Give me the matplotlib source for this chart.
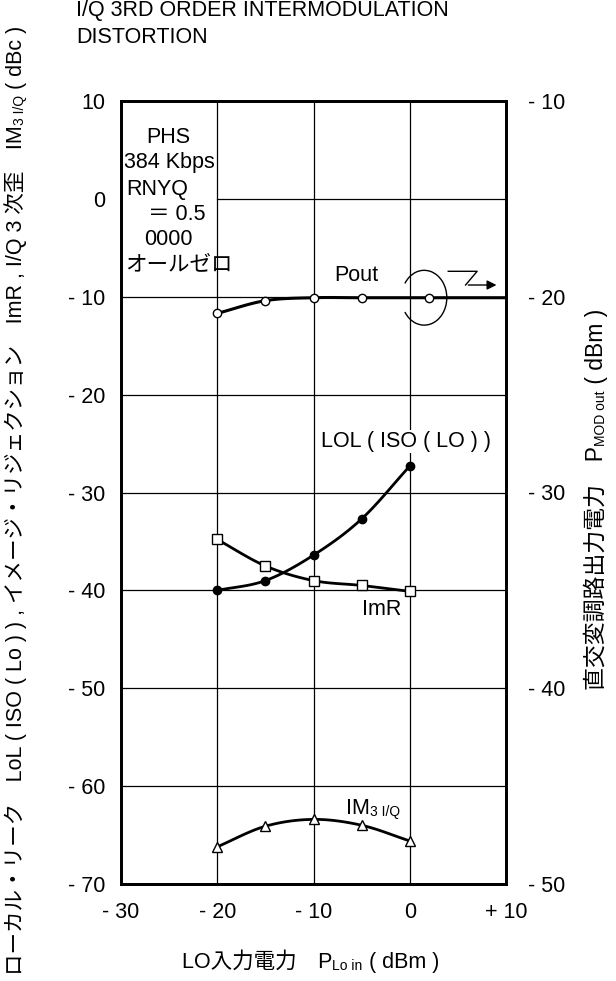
import numpy as np
import matplotlib
matplotlib.use('Agg')
import matplotlib.pyplot as plt
from matplotlib.patches import Arc

plt.rcParams['font.family'] = ['Liberation Sans', 'Noto Sans CJK JP', 'DejaVu Sans']
plt.rcParams['font.size'] = 15.5

# LO input power (dBm) at the measured points
lo_in = [-20, -15, -10, -5, 0]
pout_x = [-20, -15, -10, -5, 2]

# left axis (dBc)
lol = [-40.0, -39.0, -36.4, -32.7, -27.3]
imr = [-34.8, -37.5, -39.0, -39.5, -40.1]
im3 = [-66.2, -64.1, -63.4, -64.0, -65.6]
# right axis (dBm)
pout = [-20.85, -20.2, -20.05, -20.05, -20.05]

x_ticks = [-30, -20, -10, 0, 10]
x_labels = ['- 30', '- 20', '- 10', '0', '+ 10']
yl_ticks = [10, 0, -10, -20, -30, -40, -50, -60, -70]
yl_labels = ['10', '0', '- 10', '- 20', '- 30', '- 40', '- 50', '- 60', '- 70']
yr_ticks = [-10, -20, -30, -40, -50]
yr_labels = ['- 10', '- 20', '- 30', '- 40', '- 50']

FS = 15.5
SUB = 10


def smooth(xs, ys, n=30):
    # Catmull-Rom curve through the points
    p = np.column_stack([xs, ys]).astype(float)
    p = np.vstack([2 * p[0] - p[1], p, 2 * p[-1] - p[-2]])
    out = []
    t = np.linspace(0, 1, n)[:, None]
    for i in range(1, len(p) - 2):
        p0, p1, p2, p3 = p[i - 1], p[i], p[i + 1], p[i + 2]
        seg = 0.5 * ((2 * p1) + (-p0 + p2) * t + (2 * p0 - 5 * p1 + 4 * p2 - p3) * t ** 2
                     + (-p0 + 3 * p1 - 3 * p2 + p3) * t ** 3)
        out.append(seg)
    c = np.vstack(out)
    return c[:, 0], c[:, 1]


fig = plt.figure(figsize=(6.16, 9.81), dpi=100)
ax = fig.add_axes([121 / 616, 1 - 884 / 981, 385 / 616, 783 / 981])
ax.set_xlim(-30, 10)
ax.set_ylim(-70, 10)

# grid: the corner at upper left holds the condition box
for gx in [-20, -10, 0]:
    ax.axvline(gx, color='black', lw=0.9, zorder=1)
ax.plot([-20, 10], [0, 0], color='black', lw=0.9, zorder=1)
for gy in [-10, -20, -30, -40, -50, -60]:
    ax.axhline(gy, color='black', lw=0.9, zorder=1)

ax.set_xticks(x_ticks)
ax.set_xticklabels(x_labels)
ax.set_yticks(yl_ticks)
ax.set_yticklabels(yl_labels)
ax.tick_params(length=0, labelsize=FS)
ax.tick_params(axis='x', pad=13)
ax.tick_params(axis='y', pad=11)
for s in ax.spines.values():
    s.set_linewidth(2)

ax2 = ax.twinx()
ax2.set_ylim(-50, -10)
ax2.set_yticks(yr_ticks)
ax2.set_yticklabels(yr_labels)
ax2.tick_params(length=0, labelsize=FS, pad=16)
for s in ax2.spines.values():
    s.set_linewidth(2)

mk = dict(color='black', mec='black', mew=1, ls='none', zorder=5)

sx, sy = smooth(lo_in, lol)
ax.plot(sx, sy, color='black', lw=2, zorder=4)
ax.plot(lo_in, lol, marker='o', ms=6, mfc='black', **mk)

sx, sy = smooth(lo_in, imr)
ax.plot(sx, sy, color='black', lw=2, zorder=4)
ax.plot(lo_in, imr, marker='s', ms=7, mfc='white', **mk)

sx, sy = smooth(lo_in, im3)
ax.plot(sx, sy, color='black', lw=2, zorder=4)
ax.plot(lo_in, im3, marker='^', ms=7, mfc='white', **mk)

sx, sy = smooth(pout_x, pout)
sx = np.append(sx, ax.get_xlim()[1])
sy = np.append(sy, pout[-1])
ax2.plot(sx, sy, color='black', lw=2.2, zorder=4)
ax2.plot(pout_x, pout, marker='o', ms=6, mfc='white', **mk)

# ellipse and arrow pointing Pout to the right-hand scale
ax2.add_patch(Arc((pout_x[-1] - 0.5, pout[-1]), 4.7, 2.8, theta1=-160, theta2=160,
                  color='black', lw=1, zorder=3))
ax2.plot([4.0, 7.0, 5.8], [-18.7, -18.7, -19.4], color='black', lw=1)
ax2.annotate('', xy=(9.3, -19.4), xytext=(5.8, -19.4),
             arrowprops=dict(arrowstyle='-|>', color='black', lw=1, mutation_scale=14))

# curve labels
ax.text(-5.5, -7.8, 'Pout', ha='center', va='center', fontsize=FS)
ax.text(-9.2, -24.8, 'LOL ( ISO ( LO ) )', ha='left', va='center', fontsize=FS,
        bbox=dict(facecolor='white', edgecolor='none', pad=1), zorder=3)
ax.text(-2.9, -42.0, 'ImR', ha='center', va='center', fontsize=FS)

# condition box
ax.text(-25.1, 6.3, 'PHS', ha='center', va='center', fontsize=FS)
ax.text(-29.7, 3.7, '384 Kbps', ha='left', va='center', fontsize=FS)
ax.text(-29.5, 1.0, 'RNYQ', ha='left', va='center', fontsize=FS)
ax.text(-27.2, -1.6, '＝ 0.5', ha='left', va='center', fontsize=FS)
ax.text(-25.1, -4.2, '0000', ha='center', va='center', fontsize=FS)
ax.text(-29.6, -6.75, 'オールゼロ', ha='left', va='center', fontsize=FS)

fig.text(76 / 616, 1 - 16 / 981, 'I/Q 3RD ORDER INTERMODULATION', ha='left', va='baseline', fontsize=15.5)
fig.text(76 / 616, 1 - 43 / 981, 'DISTORTION', ha='left', va='baseline', fontsize=15.5)

renderer = fig.canvas.get_renderer()
W, H = fig.bbox.width, fig.bbox.height


def vstack_text(x, y, parts):
    # rotated pieces placed one after another, reading bottom to top
    for s, size, shift in parts:
        t = fig.text(x + shift / W, y, s, rotation=90, rotation_mode='anchor',
                     ha='left', va='baseline', fontsize=size)
        y += t.get_window_extent(renderer).height / H


def hstack_text(x, y, parts):
    for s, size, shift in parts:
        t = fig.text(x, y - shift / H, s, ha='left', va='baseline', fontsize=size)
        x += t.get_window_extent(renderer).width / W


# IM3 I/Q label next to its curve
lx, ly = fig.transFigure.inverted().transform(ax.transData.transform((-6.6, -62.8)))
hstack_text(lx, ly, [('IM', FS, 0), ('3 I/Q', SUB, 2)])

vstack_text(22 / 616, 1 - 975 / 981, [
    ('ローカル・リーク　LoL ( ISO ( Lo ) ) , イメージ・リジェクション　ImR , I/Q 3 次歪　IM', 15.5, 0),
    ('3 I/Q', SUB, 2),
    (' ( dBc )', 15.5, 0),
])
vstack_text(603 / 616, 1 - 690 / 981, [
    ('直交変調路出力電力　P', 16.5, 0),
    ('MOD out', SUB, 2),
    (' ( dBm )', 16.5, 0),
])
hstack_text(182 / 616, 1 - 968 / 981, [
    ('LO入力電力　P', FS, 0),
    ('Lo in', SUB, 2),
    (' ( dBm )', FS, 0),
])

fig.savefig('out.png', dpi=100)
